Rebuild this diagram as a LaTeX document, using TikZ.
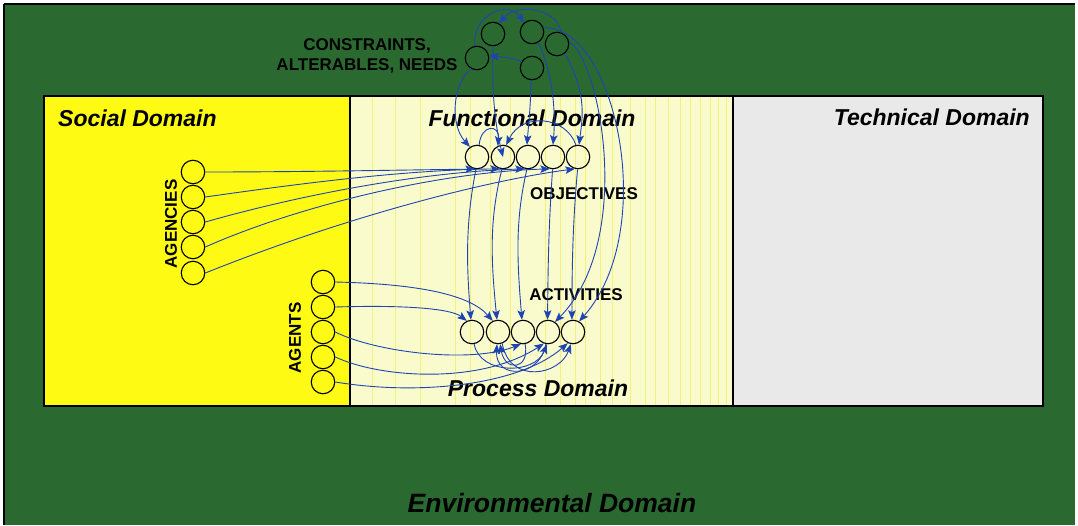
\documentclass[tikz,border=0pt]{standalone}
\usepackage{fontspec}
\setmainfont{Liberation Sans}
\usetikzlibrary{arrows.meta}
\definecolor{envgreen}{RGB}{42,106,48}
\definecolor{socyellow}{RGB}{255,250,20}
\definecolor{funyellow}{RGB}{250,251,205}
\definecolor{stripe}{RGB}{244,240,125}
\definecolor{techgray}{RGB}{233,233,233}
\definecolor{flowblue}{RGB}{30,68,180}
\tikzset{
  ball/.style={circle,draw=black,line width=1.1pt,minimum size=23.5pt,inner sep=0pt},
  flow/.style={draw=flowblue,line width=0.9pt,-{Stealth[length=9.5pt,width=7.5pt,inset=2pt]}},
  dom/.style={font=\fontsize{23}{26}\selectfont\bfseries\itshape,inner sep=0pt},
  capt/.style={font=\fontsize{17}{19}\selectfont\bfseries,inner sep=0pt},
  frame/.style={draw=black,line width=1.2pt}
}
\begin{document}
\begin{tikzpicture}[x=1pt,y=-1pt]
\useasboundingbox (0,0) rectangle (1078,525);
\fill[white] (0,0) rectangle (1078,525);
% environment
\fill[envgreen] (4,4) rectangle (1075,525);
\draw[frame] (4,4) -- (4,525) (4,4) -- (1075,4);
% domains
\fill[socyellow] (44,96) rectangle (350,406);
\fill[funyellow] (350,96) rectangle (733,406);
\foreach \s in {372,395,420,455,470,490,510,545,560,575,585,600,612,630,645,655,668,680,690,700,710,718,726}
  \draw[stripe,line width=0.6pt] (\s,97) -- (\s,405);
\fill[techgray] (733,96) rectangle (1043,406);
\draw[frame] (44,96) rectangle (1043,406);
\draw[frame] (350,96) -- (350,406);
\draw[frame] (733,96) -- (733,406);
% domain labels
\node[dom,anchor=west] (soc) at (58,118) {Social Domain};
\node[dom] (fun) at (532,118) {Functional Domain};
\node[dom,anchor=east] (tec) at (1030,117) {Technical Domain};
\node[dom] (pro) at (538,388) {Process Domain};
\node[dom,font=\fontsize{26.5}{30}\selectfont\bfseries\itshape] (env) at (552,503) {Environmental Domain};
% captions
\node[capt,align=center] (capc) at (367,56) {CONSTRAINTS,\\[1pt]ALTERABLES, NEEDS};
\node[capt] (capo) at (584,194) {OBJECTIVES};
\node[capt] (capa) at (576,295) {ACTIVITIES};
\node[capt,rotate=90] (capg) at (171,224) {AGENCIES};
\node[capt,rotate=90] (capp) at (295,338) {AGENTS};
% constraints
\node[ball] (c1) at (493,34) {};
\node[ball] (c2) at (532,32) {};
\node[ball] (c3) at (557,44) {};
\node[ball] (c4) at (477,58) {};
\node[ball] (c5) at (532,68) {};
% objectives
\foreach \i/\x in {1/477,2/503,3/528,4/553,5/578}
  \node[ball] (o\i) at (\x,157) {};
% activities
\foreach \i/\x in {1/472,2/498,3/523,4/548,5/573}
  \node[ball] (a\i) at (\x,332) {};
% agencies
\foreach \i/\y in {1/172,2/197,3/222,4/247,5/273}
  \node[ball] (g\i) at (193,\y) {};
% agents
\foreach \i/\y in {1/282,2/307,3/332,4/357,5/382}
  \node[ball] (p\i) at (323,\y) {};
% constraint loops
\draw[flow] (c4.100) .. controls (472,14) and (508,0) .. (c2.130);
\draw[flow] (c3.70) .. controls (556,6) and (515,4) .. (c1.60);
\draw[flow] (c5.150) .. controls (515,58) and (502,57) .. (c4.10);
% constraints -> objectives
\draw[flow] (c4.-120) .. controls (452,85) and (450,125) .. (o1.125);
\draw[flow] (c1.-90) .. controls (492,90) and (494,120) .. (o2.center);
\draw[flow] (c5.-95) .. controls (531,100) and (529,120) .. (o3.95);
\draw[flow] (c2.-60) .. controls (552,70) and (556,110) .. (o4.90);
\draw[flow] (c3.-50) .. controls (588,95) and (582,120) .. (o5.85);
% constraints -> activities (long curves)
\draw[flow] (c2.20) .. controls (615,25) and (660,230) .. (a5.60);
\draw[flow] (c3.10) .. controls (600,60) and (635,240) .. (a4.55);
% objective loops
\draw[flow] (o1.80) .. controls (481,124) and (500,124) .. (o2.115);
\draw[flow] (o5.100) .. controls (566,116) and (522,112) .. (o2.75);
% objectives -> activities
\draw[flow] (o1.-95) .. controls (466,220) and (466,260) .. (a1.95);
\draw[flow] (o2.-95) .. controls (489,220) and (491,260) .. (a2.95);
\draw[flow] (o3.-95) .. controls (515,220) and (517,260) .. (a3.95);
\draw[flow] (o4.-92) .. controls (549,220) and (548,260) .. (a4.92);
\draw[flow] (o5.-92) .. controls (573,220) and (572,260) .. (a5.95);
% agencies -> objectives
\draw[flow] (g1.east) .. controls (300,172) and (400,170) .. (o1.-100);
\draw[flow] (g2.east) .. controls (290,185) and (400,170) .. (o2.-105);
\draw[flow] (g3.east) .. controls (300,195) and (420,172) .. (o3.-105);
\draw[flow] (g4.east) .. controls (300,205) and (440,172) .. (o4.-105);
\draw[flow] (g5.east) .. controls (350,215) and (490,180) .. (o5.-105);
% agents -> activities
\draw[flow] (p1.east) .. controls (420,284) and (470,295) .. (a2.115);
\draw[flow] (p2.east) .. controls (400,305) and (450,308) .. (a1.115);
\draw[flow] (p3.east) .. controls (375,352) and (470,364) .. (a3.-100);
\draw[flow] (p4.east) .. controls (380,378) and (480,385) .. (a4.-110);
\draw[flow] (p5.east) .. controls (420,396) and (520,385) .. (a5.-115);
% activity loops
\draw[flow] (a1.-80) .. controls (480,375) and (535,375) .. (a4.-95);
\draw[flow] (a3.-80) .. controls (530,370) and (505,372) .. (a2.-80);
\draw[flow] (a4.-100) .. controls (540,378) and (495,380) .. (a2.-95);
\draw[flow] (a2.-70) .. controls (510,385) and (560,375) .. (a5.-100);
\end{tikzpicture}
\end{document}
